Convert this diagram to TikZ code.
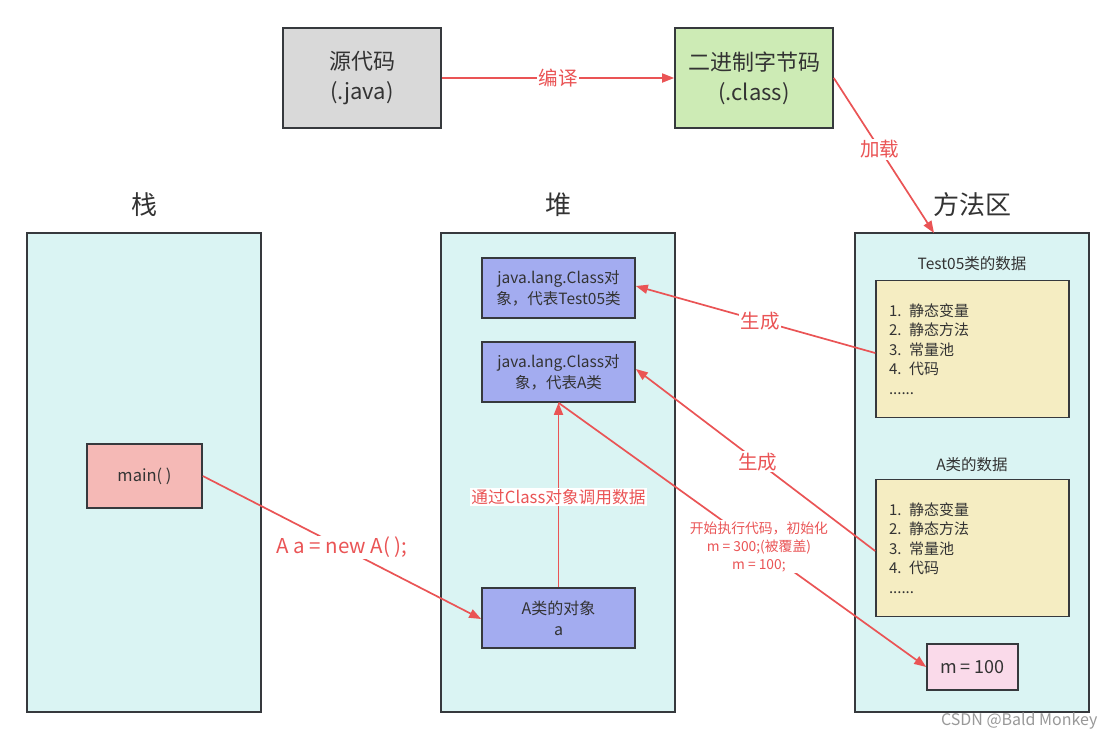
\documentclass[tikz,border=0pt]{standalone}
\usepackage{fontspec}
\setmainfont{Noto Sans CJK SC}
\usetikzlibrary{arrows.meta}
\definecolor{ink}{HTML}{333333}
\definecolor{edge}{HTML}{36393D}
\definecolor{redl}{HTML}{EA5455}
\definecolor{grayf}{HTML}{D9D9D9}
\definecolor{greenf}{HTML}{CDEBB5}
\definecolor{cyanf}{HTML}{DAF4F3}
\definecolor{pinkf}{HTML}{F5B9B6}
\definecolor{bluef}{HTML}{A3ACF0}
\definecolor{yellf}{HTML}{F5EDC2}
\definecolor{lpinkf}{HTML}{FADAEA}
\tikzset{
  box/.style={draw=edge, line width=1.6pt, text=ink, align=center, inner sep=0pt},
  area/.style={box, fill=cyanf, minimum width=234, minimum height=479},
  heapbox/.style={box, fill=bluef, minimum width=153, minimum height=60, font=\fontsize{15.5}{21}\selectfont},
  databox/.style={box, fill=yellf, minimum width=193, minimum height=137, text width=167, align=left, font=\fontsize{15}{19.6}\selectfont},
  conn/.style={draw=redl, line width=1.7pt, -{Triangle[length=12pt,width=9pt]}},
  lab/.style={text=redl, fill=white, inner sep=1.5pt},
  title/.style={text=ink, font=\fontsize{26}{30}\selectfont},
}
\begin{document}
\begin{tikzpicture}[x=1pt,y=-1pt]
\useasboundingbox[fill=white] (0,0) rectangle (1117,740);
% top
\node[box, fill=grayf, minimum width=158, minimum height=100, font=\fontsize{22}{30}\selectfont] (src) at (362,78) {源代码\\(.java)};
\node[box, fill=greenf, minimum width=158, minimum height=100, font=\fontsize{22}{30}\selectfont] (cls) at (754,78) {二进制字节码\\(.class)};
% titles
\node[title] (t1) at (144,205) {栈};
\node[title] (t2) at (558,205) {堆};
\node[title] (t3) at (972,205) {方法区};
% areas
\node[area] (stack) at (144,472.5) {};
\node[area] (heap) at (558,472.5) {};
\node[area] (meth) at (972,472.5) {};
\coordinate (methtop) at (934,233);
% stack
\node[box, fill=pinkf, minimum width=115, minimum height=64, font=\fontsize{16.5}{20}\selectfont] (main) at (144.5,476) {main( )};
% heap
\node[heapbox] (c1) at (558.5,288) {java.lang.Class对\\象，代表Test05类};
\node[heapbox] (c2) at (558.5,372) {java.lang.Class对\\象，代表A类};
\node[heapbox, font=\fontsize{16}{21}\selectfont] (obj) at (558.5,618) {A类的对象\\a};
% method area
\node[text=ink, font=\fontsize{15.5}{18}\selectfont] (d1t) at (972,264) {Test05类的数据};
\node[databox] (d1) at (972.5,349) {1. 静态变量\\2. 静态方法\\3. 常量池\\4. 代码\\......};
\node[text=ink, font=\fontsize{15.5}{18}\selectfont] (d2t) at (972,465) {A类的数据};
\node[databox] (d2) at (972.5,548) {1. 静态变量\\2. 静态方法\\3. 常量池\\4. 代码\\......};
\node[box, fill=lpinkf, minimum width=91, minimum height=46, font=\fontsize{18}{20}\selectfont] (m) at (972.5,667) {m = 100};
% connectors
\draw[conn] (src.east) -- node[lab, font=\fontsize{19.5}{22}\selectfont] (l1) {编译} (cls.east -| cls.west);
\draw[conn] (cls.east) -- node[lab, pos=0.46, font=\fontsize{19.5}{22}\selectfont] (l2) {加载} (methtop);
\draw[conn] (main.east) -- node[lab, pos=0.5, font=\fontsize{20.5}{24}\selectfont] (l3) {A a = new A( );} ([yshift=-1]obj.west);
\draw[conn] (obj.north) -- node[lab, pos=0.49, font=\fontsize{16.7}{19}\selectfont] (l4) {通过Class对象调用数据} (c2.south);
\draw[conn] ([yshift=-4]d1.west) -- node[lab, pos=0.48, font=\fontsize{19.5}{22}\selectfont] (l5) {生成} ([yshift=2]c1.east);
\draw[conn] ([yshift=-3]d2.west) -- node[lab, pos=0.49, font=\fontsize{19.5}{22}\selectfont] (l6) {生成} ([yshift=3]c2.east);
\draw[conn] (c2.south) -- node[lab, pos=0.545, align=center, font=\fontsize{13.8}{18}\selectfont] (l7) {开始执行代码，初始化\\m = 300;(被覆盖)\\m = 100;} (m.west);
% watermark
\node[anchor=east, text=black!40, font=\fontsize{16}{18}\selectfont] (wm) at (1101,721) {CSDN @Bald Monkey};
\end{tikzpicture}
\end{document}
